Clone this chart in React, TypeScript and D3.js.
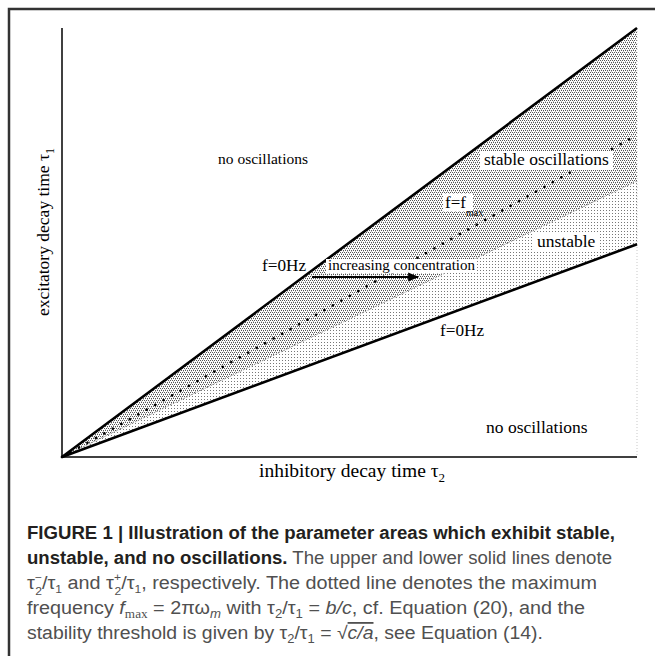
import React from "react";
import * as d3 from "d3";

// τ2 (inhibitory decay time) sample positions, normalised
const tau2 = [0, 1];
// τ1 values of each boundary line at those τ2 positions
const upperBoundary = [0, 0.746]; // τ2⁻/τ1, f = 0 Hz
const fmaxLine = [0, 0.56]; // f = f_max
const stabilityThreshold = [0, 0.48]; // sqrt(c/a)
const lowerBoundary = [0, 0.37]; // τ2⁺/τ1, f = 0 Hz
const yDomainMax = 0.746;

const W = 655;
const H = 656;
const X0 = 62;
const X1 = 637;
const Y0 = 457;
const Y1 = 28;

export default function App() {
  const x = d3.scaleLinear().domain([0, 1]).range([X0, X1]);
  const y = d3.scaleLinear().domain([0, yDomainMax]).range([Y0, Y1]);

  const pts = (vals: number[]) => tau2.map((t, i) => [t, vals[i]] as [number, number]);
  const line = d3
    .line<[number, number]>()
    .x((d) => x(d[0]))
    .y((d) => y(d[1]));
  const band = (top: number[], bottom: number[]) =>
    d3
      .area<number>()
      .x((d) => x(d))
      .y0((_, i) => y(bottom[i]))
      .y1((_, i) => y(top[i]))(tau2) || "";

  const serif = "'Liberation Serif', 'Times New Roman', serif";
  const sans = "'Liberation Sans', Arial, Helvetica, sans-serif";
  const boldCol = "#231f20";
  const regCol = "#505050";
  const capFs = 18;
  const sm = 11;

  return (
    <svg
      width={W}
      height={H}
      viewBox={`0 0 ${W} ${H}`}
      style={{ position: "absolute", left: 0, top: 0, background: "#fff" }}
    >
      <defs>
        <pattern id="dense" width="4" height="4" patternUnits="userSpaceOnUse">
          <rect width="4" height="4" fill="#fff" />
          <rect x="0" y="0" width="1" height="1" fill="#555" />
          <rect x="2" y="0" width="1" height="1" fill="#555" />
          <rect x="1" y="2" width="1" height="1" fill="#555" />
          <rect x="3" y="2" width="1" height="1" fill="#555" />
          <rect x="1" y="1" width="1" height="1" fill="#bbb" />
          <rect x="3" y="3" width="1" height="1" fill="#bbb" />
        </pattern>
        <pattern id="light" width="3" height="3" patternUnits="userSpaceOnUse">
          <rect width="3" height="3" fill="#fff" />
          <rect x="0" y="0" width="1" height="1" fill="#777" />
        </pattern>
        <marker id="arr" viewBox="0 0 10 10" refX="9" refY="5" markerWidth="5" markerHeight="5" orient="auto">
          <path d="M0,1 L10,5 L0,9 Z" fill="#000" />
        </marker>
      </defs>

      {/* frame */}
      <path d={`M9,${H} V9 H${W}`} fill="none" stroke="#333" strokeWidth={2.5} />

      {/* shaded regions */}
      <path d={band(upperBoundary, stabilityThreshold)} fill="url(#dense)" />
      <path d={band(stabilityThreshold, lowerBoundary)} fill="url(#light)" />

      {/* right dotted plot edge */}
      <line x1={X1} x2={X1} y1={Y1} y2={Y0} stroke="#bbb" strokeWidth={0.8} strokeDasharray="1 2" />

      {/* threshold fine line */}
      <path d={line(pts(stabilityThreshold)) || ""} fill="none" stroke="#777" strokeWidth={0.8} strokeDasharray="1.5 1.5" />

      {/* fmax dotted */}
      <path
        d={line(pts(fmaxLine)) || ""}
        fill="none"
        stroke="#000"
        strokeWidth={2.6}
        strokeLinecap="round"
        strokeDasharray="0.1 9.6"
      />

      {/* solid boundaries */}
      <path d={line(pts(upperBoundary)) || ""} fill="none" stroke="#000" strokeWidth={2.6} />
      <path d={line(pts(lowerBoundary)) || ""} fill="none" stroke="#000" strokeWidth={2.6} />

      {/* axes */}
      <line x1={X0} x2={X0} y1={Y1} y2={Y0} stroke="#000" strokeWidth={1.5} />
      <line x1={X0} x2={X1} y1={Y0} y2={Y0} stroke="#000" strokeWidth={1.5} />

      {/* label backgrounds */}
      <rect x={480} y={151} width={133} height={19} fill="#fff" />
      <rect x={532} y={233} width={68} height={19} fill="#fff" />
      <rect x={443} y={194} width={30} height={17} fill="#fff" />
      <rect x={326} y={259} width={150} height={14} fill="#fff" />

      <g fontFamily={serif} fill="#000">
        <text x={218} y={164} fontSize={15.5}>no oscillations</text>
        <text x={484} y={165} fontSize={17.5}>stable oscillations</text>
        <text x={445} y={208} fontSize={17}>
          f=f<tspan fontSize={10} dy={8}>max</tspan>
        </text>
        <text x={537} y={247} fontSize={17.5}>unstable</text>
        <text x={262} y={271} fontSize={17.2}>f=0Hz</text>
        <text x={328} y={270} fontSize={15}>increasing concentration</text>
        <text x={440} y={336} fontSize={17.2}>f=0Hz</text>
        <text x={486} y={433} fontSize={17.5}>no oscillations</text>
        <text x={352} y={477} fontSize={19.5} textAnchor="middle">
          inhibitory decay time τ<tspan fontSize={13} dy={5}>2</tspan>
        </text>
        <text transform="translate(49,232) rotate(-90)" fontSize={17.5} textAnchor="middle">
          excitatory decay time τ<tspan fontSize={12} dy={5}>1</tspan>
        </text>
      </g>

      {/* arrow */}
      <line x1={312} x2={418} y1={277} y2={277} stroke="#000" strokeWidth={2.2} markerEnd="url(#arr)" />

      {/* caption */}
      <g fontFamily={sans} fontSize={capFs}>
        <text x={27} y={539} textLength={588} lengthAdjust="spacingAndGlyphs" fill={boldCol} fontWeight="bold">
          FIGURE 1 | Illustration of the parameter areas which exhibit stable,
        </text>
        <text x={27} y={564} textLength={585} lengthAdjust="spacingAndGlyphs" fill={regCol}>
          <tspan fontWeight="bold" fill={boldCol}>unstable, and no oscillations.</tspan> The upper and lower solid lines denote
        </text>
        <text x={27} y={589} textLength={570} lengthAdjust="spacingAndGlyphs" fill={regCol}>
          τ<tspan fontSize={sm} dy={-8}>−</tspan>
          <tspan fontSize={sm} dx={-6} dy={14}>2</tspan>
          <tspan dy={-6}>/τ</tspan>
          <tspan fontSize={sm} dy={4}>1</tspan>
          <tspan dy={-4}> and τ</tspan>
          <tspan fontSize={sm} dy={-8}>+</tspan>
          <tspan fontSize={sm} dx={-6} dy={14}>2</tspan>
          <tspan dy={-6}>/τ</tspan>
          <tspan fontSize={sm} dy={4}>1</tspan>
          <tspan dy={-4}>, respectively. The dotted line denotes the maximum</tspan>
        </text>
        <text x={27} y={614} textLength={558} lengthAdjust="spacingAndGlyphs" fill={regCol}>
          frequency <tspan fontStyle="italic">f</tspan>
          <tspan fontFamily={serif} fontSize={sm + 1} dy={4}>max</tspan>
          <tspan dy={-4}> = 2πω</tspan>
          <tspan fontStyle="italic" fontSize={sm + 1} dy={4}>m</tspan>
          <tspan dy={-4}> with τ</tspan>
          <tspan fontSize={sm + 1} dy={4}>2</tspan>
          <tspan dy={-4}>/τ</tspan>
          <tspan fontSize={sm + 1} dy={4}>1</tspan>
          <tspan dy={-4}> = </tspan>
          <tspan fontStyle="italic">b/c</tspan>, cf. Equation (20), and the
        </text>
        <text x={27} y={639} textLength={516} lengthAdjust="spacingAndGlyphs" fill={regCol}>
          stability threshold is given by τ<tspan fontSize={sm + 1} dy={4}>2</tspan>
          <tspan dy={-4}>/τ</tspan>
          <tspan fontSize={sm + 1} dy={4}>1</tspan>
          <tspan dy={-4}> = √</tspan>
          <tspan fontStyle="italic" textDecoration="overline">c/a</tspan>, see Equation (14).
        </text>
      </g>
    </svg>
  );
}
